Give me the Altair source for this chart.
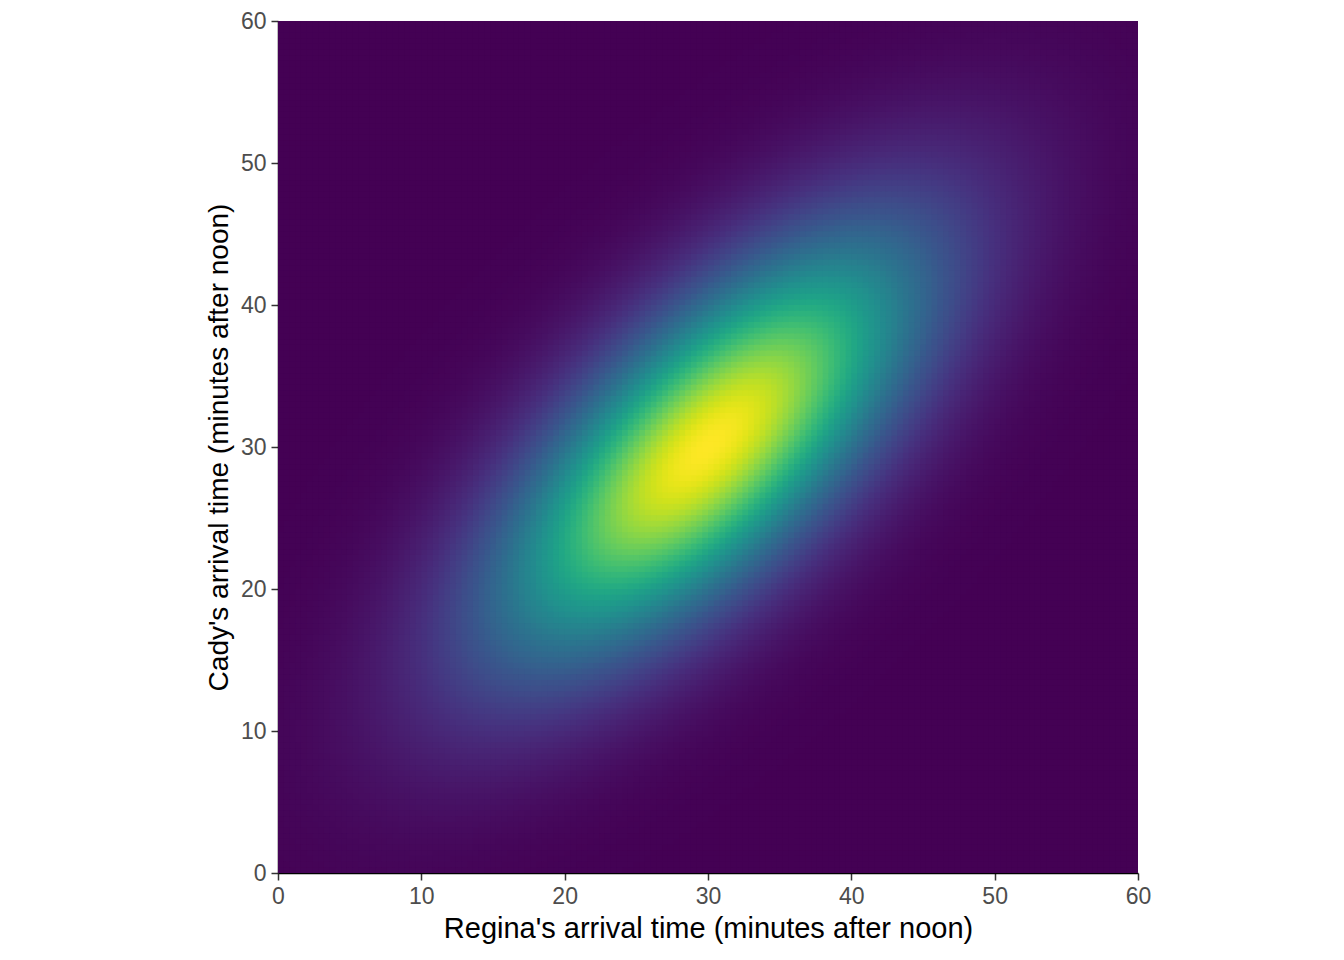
import numpy as np
import pandas as pd
import altair as alt

alt.data_transformers.disable_max_rows()

# Parameters (bivariate normal of arrival times)
mean_regina = 30.0
mean_cady = 30.0
sd_regina = 10.0
sd_cady = 10.0
rho = 0.7

axis_ticks = [0, 10, 20, 30, 40, 50, 60]
step = 0.4
edges = np.linspace(0, 60, int(round(60 / step)) + 1)

x0, y0 = np.meshgrid(edges[:-1], edges[:-1])
xc = x0 + step / 2
yc = y0 + step / 2
zx = (xc - mean_regina) / sd_regina
zy = (yc - mean_cady) / sd_cady
q = (zx**2 - 2 * rho * zx * zy + zy**2) / (1 - rho**2)
dens = np.exp(-q / 2) / (2 * np.pi * sd_regina * sd_cady * np.sqrt(1 - rho**2))

overlap = 0.1
df = pd.DataFrame({
    "x0": x0.ravel(), "x1": np.minimum(x0 + step + overlap, 60).ravel(),
    "y0": y0.ravel(), "y1": np.minimum(y0 + step + overlap, 60).ravel(),
    "density": dens.ravel(),
})

font = "Liberation Sans"
cscale = alt.Scale(scheme="viridis", domain=[0, float(dens.max())])

def make_axis(title, label_pad, title_pad, title_size):
    return alt.Axis(
        values=axis_ticks, title=title, grid=False,
        domainColor="black", domainWidth=1.5,
        tickColor="#333333", tickWidth=1.5, tickSize=7,
        labelFont=font, labelFontSize=23, labelColor="#4D4D4D",
        labelPadding=label_pad, labelFlush=False, labelOverlap=False,
        titleFont=font, titleFontSize=title_size, titleFontWeight="normal", titleColor="black",
        titlePadding=title_pad,
    )

chart = alt.Chart(df).mark_rect().encode(
    x=alt.X("x0:Q", scale=alt.Scale(domain=[0, 60], nice=False, zero=False),
            axis=make_axis("Regina's arrival time (minutes after noon)", 5, 6, 29)),
    x2="x1:Q",
    y=alt.Y("y0:Q", scale=alt.Scale(domain=[0, 60], nice=False, zero=False),
            axis=make_axis("Cady's arrival time (minutes after noon)", 5, 7, 28)),
    y2="y1:Q",
    color=alt.Color("density:Q", scale=cscale, legend=None),
).properties(
    width=860, height=852,
    autosize=alt.AutoSizeParams(type="none"),
    padding={"left": 270, "top": 13, "right": 190, "bottom": 79},
).configure_view(
    stroke=None
)

chart.save("out.html", embed_options={"renderer": "svg", "actions": False})
